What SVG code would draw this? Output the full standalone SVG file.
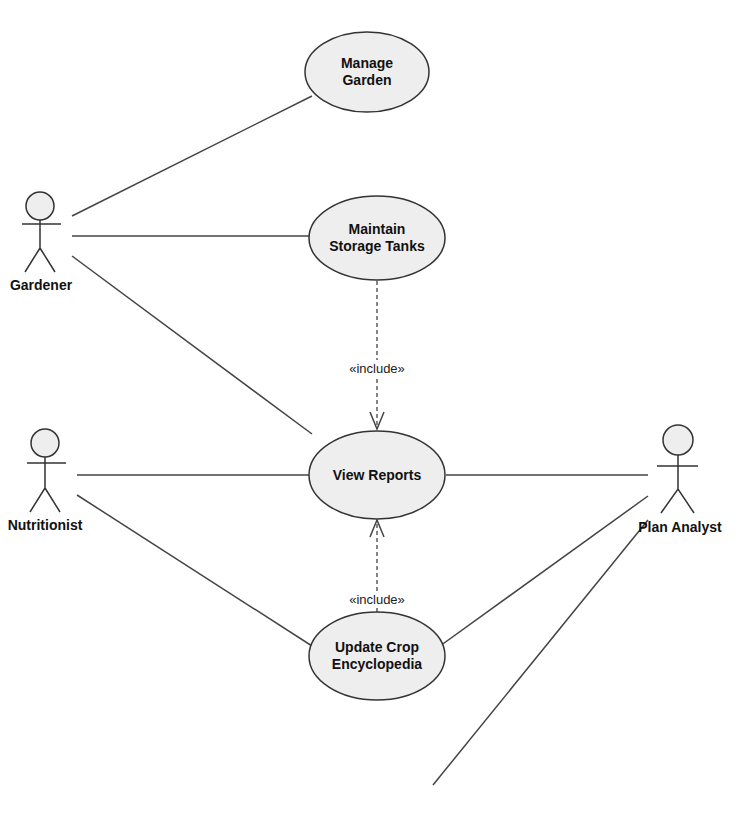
<svg xmlns="http://www.w3.org/2000/svg" width="745" height="813" viewBox="0 0 745 813">
<style>
.uc{fill:#eeeeee;stroke:#333;stroke-width:1.5}
.t{font-family:"Liberation Sans",Arial,sans-serif;font-size:14px;font-weight:bold;fill:#111;text-anchor:middle}
.s{font-family:"Liberation Sans",Arial,sans-serif;font-size:13px;fill:#222;text-anchor:middle}
.a{stroke:#333;stroke-width:1.5;fill:none}
.l{stroke:#444;stroke-width:1.5;fill:none}
.d{stroke:#444;stroke-width:1.3;fill:none;stroke-dasharray:4,3}
</style>
<rect width="745" height="813" fill="#fff"/>
<g id="connectors">
<line class="l" x1="72" y1="216" x2="312" y2="96"/>
<line class="l" x1="72" y1="236" x2="309" y2="236"/>
<line class="l" x1="72" y1="256" x2="312" y2="434"/>
<line class="l" x1="77" y1="475" x2="309" y2="475"/>
<line class="l" x1="77" y1="495" x2="312" y2="646"/>
<line class="l" x1="446" y1="475" x2="648" y2="475"/>
<line class="l" x1="440" y1="646" x2="648" y2="496"/>
<line class="l" x1="648" y1="520" x2="433" y2="785"/>
<line class="d" x1="377" y1="281" x2="377" y2="429"/>
<polyline class="l" points="370,412 377,429 384,412"/>
<line class="d" x1="377" y1="612" x2="377" y2="520"/>
<polyline class="l" points="370,537 377,520 384,537"/>
<rect x="340" y="360" width="74" height="16" fill="#fff"/>
<text class="s" x="377" y="373">«include»</text>
<rect x="340" y="591" width="74" height="16" fill="#fff"/>
<text class="s" x="377" y="604">«include»</text>
</g>
<g id="manage-garden"><ellipse class="uc" cx="367" cy="72" rx="62" ry="40"/><text class="t" x="367" y="68">Manage</text><text class="t" x="367" y="85">Garden</text></g>
<g id="maintain-storage"><ellipse class="uc" cx="377" cy="238" rx="68" ry="42"/><text class="t" x="377" y="234">Maintain</text><text class="t" x="377" y="251">Storage Tanks</text></g>
<g id="view-reports"><ellipse class="uc" cx="377" cy="475" rx="68" ry="44"/><text class="t" x="377" y="480">View Reports</text></g>
<g id="update-crop"><ellipse class="uc" cx="377" cy="656" rx="68" ry="44"/><text class="t" x="377" y="652">Update Crop</text><text class="t" x="377" y="669">Encyclopedia</text></g>
<g id="gardener"><circle class="uc" cx="40" cy="206" r="14"/><path class="a" d="M22 224H61M40 220V248M25 272L40 248L55 272"/><text class="t" x="41" y="290">Gardener</text></g>
<g id="nutritionist"><circle class="uc" cx="45" cy="443" r="14"/><path class="a" d="M27 463H66M45 457V488M30 512L45 488L60 512"/><text class="t" x="45" y="530">Nutritionist</text></g>
<g id="plan-analyst"><circle class="uc" cx="678" cy="440" r="15"/><path class="a" d="M657 466H698M678 455V489M661 513L678 489L694 513"/><text class="t" x="680" y="532">Plan Analyst</text></g>
</svg>
